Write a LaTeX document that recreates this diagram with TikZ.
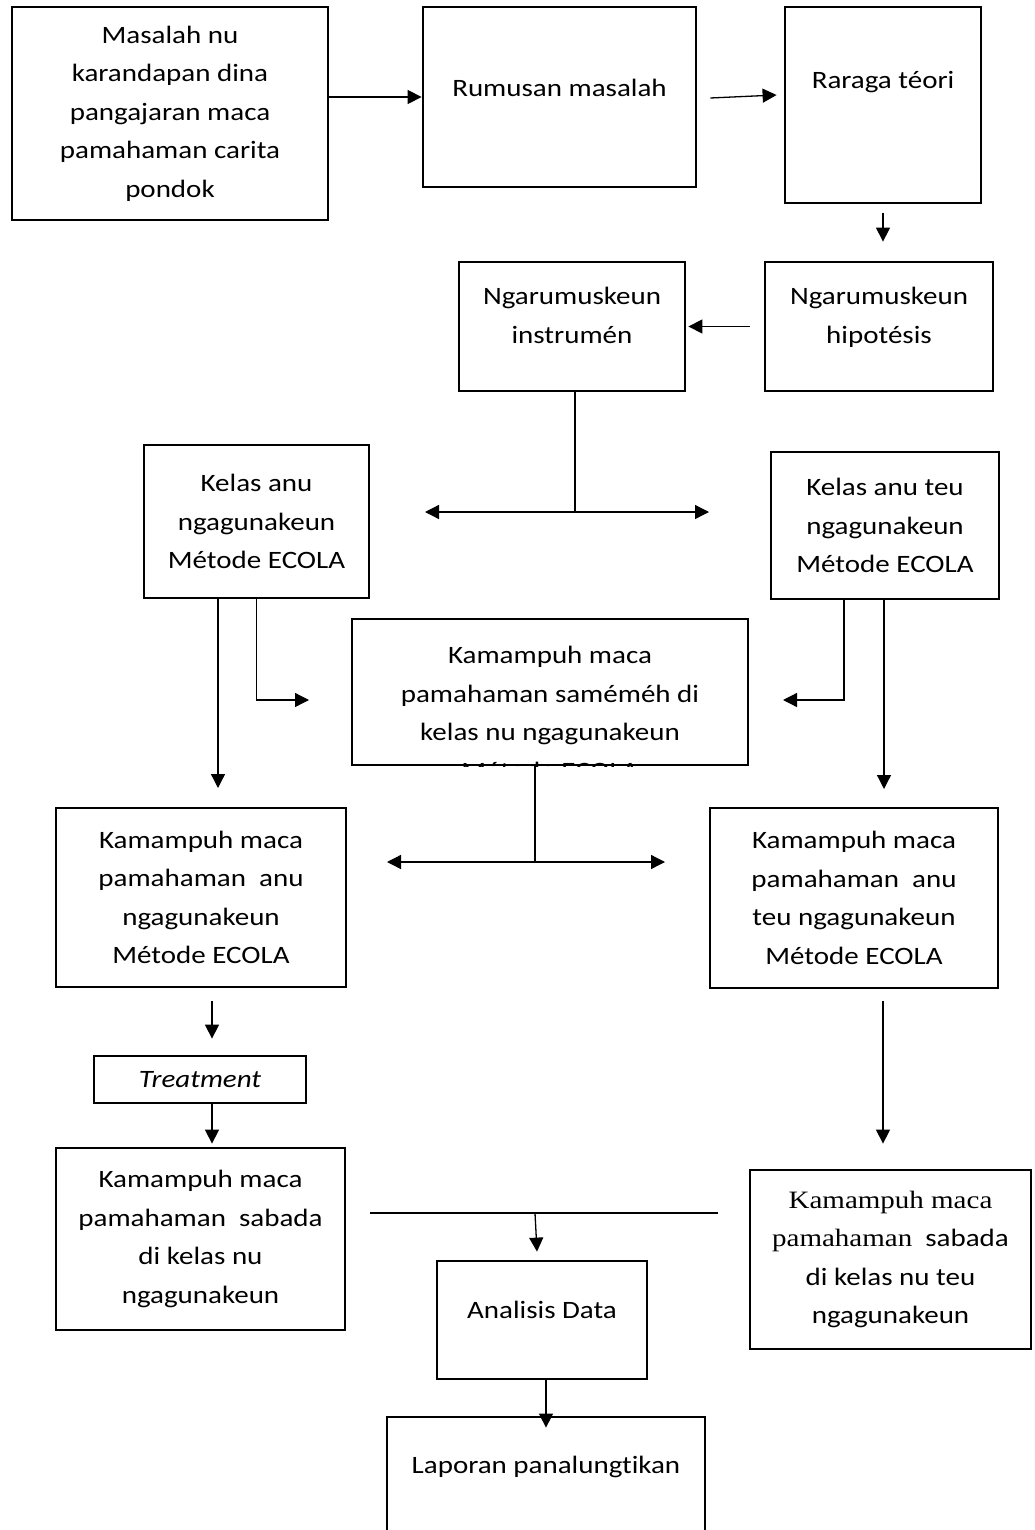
\documentclass[tikz,border=0pt]{standalone}
\usepackage{fontspec}
\setmainfont{Carlito}[FakeStretch=1.16, Ligatures=NoCommon]
\newfontfamily\timesish{Liberation Serif}[FakeStretch=1.16]
\usetikzlibrary{arrows.meta}

\begin{document}
\begin{tikzpicture}[x=1pt, y=-1pt,
  box/.style={draw, line width=2.8pt, align=center, inner sep=0pt,
    font=\fontsize{25}{38.5}\selectfont},
  arr/.style={line width=1.3pt, -{Triangle[length=14pt,width=14pt]}},
  link/.style={line width=1.3pt}]
  \useasboundingbox (0,0) rectangle (1035,1530);
  % Top row
  \node[box, minimum width=316pt, minimum height=213pt] (masalah) at (170,113.5)
    {Masalah nu\\karandapan dina\\pangajaran maca\\pamahaman carita\\pondok};
  \node[box, minimum width=273pt, minimum height=180pt, text depth=19pt] (rumusan) at (559.5,97)
    {Rumusan masalah};
  \node[box, minimum width=196pt, minimum height=196pt, text depth=51pt] (raraga) at (883,105)
    {Raraga téori};
  % Second row
  \node[box, minimum width=228pt, minimum height=129pt, text depth=22pt] (hipotesis) at (879,326.5)
    {Ngarumuskeun\\hipotésis};
  \node[box, minimum width=226pt, minimum height=129pt, text depth=22pt] (instrumen) at (572,326.5)
    {Ngarumuskeun\\instrumén};
  % Classes
  \node[box, minimum width=225pt, minimum height=153pt] (kelasa) at (256.5,521.5)
    {Kelas anu\\ngagunakeun\\Métode ECOLA};
  \node[box, minimum width=228pt, minimum height=147pt] (kelasb) at (885,525.5)
    {Kelas anu teu\\ngagunakeun\\Métode ECOLA};
  \node[box, minimum width=396pt, minimum height=146pt] (midbox) at (550,692) {};
  \begin{scope}
    \clip (midbox.south west) rectangle (midbox.north east);
    \node[box, draw=none] (midtxt) at (550,713)
      {Kamampuh maca\\pamahaman saméméh di\\kelas nu ngagunakeun\\Métode ECOLA};
  \end{scope}
  % Results
  \node[box, minimum width=290pt, minimum height=179pt] (kampuha) at (201,897.5)
    {Kamampuh maca\\pamahaman~ anu\\ngagunakeun\\Métode ECOLA};
  \node[box, minimum width=288pt, minimum height=180pt] (kampuhb) at (854,898)
    {Kamampuh maca\\pamahaman~ anu\\teu ngagunakeun\\Métode ECOLA};
  \node[box, minimum width=212pt, minimum height=47pt] (treatment) at (200,1079.5)
    {\itshape Treatment};
  \node[box, minimum width=289pt, minimum height=182pt] (sabadaa) at (200.5,1239)
    {Kamampuh maca\\pamahaman~ sabada\\di kelas nu\\ngagunakeun};
  \node[box, minimum width=281pt, minimum height=179pt] (sabadab) at (890.5,1259.5)
    {{\timesish Kamampuh maca}\\{\timesish pamahaman}~ sabada\\di kelas nu teu\\ngagunakeun};
  \node[box, minimum width=210pt, minimum height=118pt, text depth=21pt] (analisis) at (542,1320)
    {Analisis Data};
  \node[box, minimum width=318pt, minimum height=143pt, text depth=48pt] (laporan) at (546,1488.5)
    {Laporan panalungtikan};
  % Free ends
  \coordinate (split1) at (575,512);
  \coordinate (toA) at (425,512);
  \coordinate (toB) at (709,512);
  \coordinate (toMidA) at (309,700);
  \coordinate (toKampuhA) at (218,788);
  \coordinate (toMidB) at (783,700);
  \coordinate (toKampuhB) at (884,789);
  \coordinate (split2) at (535,862);
  \coordinate (toC) at (387,862);
  \coordinate (toD) at (665,862);
  \coordinate (joinL) at (370,1213);
  \coordinate (joinR) at (718,1213);
  \coordinate (join) at (535,1213);
  % Arrows
  \draw[arr] (masalah.east |- rumusan.west) -- (rumusan.west);
  \draw[arr] ([xshift=13pt,yshift=-1pt]rumusan.east) -- ([xshift=-7pt,yshift=2pt]raraga.west |- rumusan.east);
  \draw[arr] ([yshift=-9pt]raraga.south) -- ([yshift=19pt]raraga.south |- hipotesis.north);
  \draw[arr] ([xshift=-14pt]hipotesis.west) -- ([xshift=2pt]instrumen.east);
  \draw[link] ([xshift=3pt]instrumen.south) -- (split1);
  \draw[arr] (split1) -- (toA);
  \draw[arr] (split1) -- (toB);
  \draw[arr] (kelasa.south) |- (toMidA);
  \draw[arr] (kelasa.south -| toKampuhA) -- (toKampuhA);
  \draw[arr] ([xshift=-41pt]kelasb.south) |- (toMidB);
  \draw[arr] (kelasb.south -| toKampuhB) -- (toKampuhB);
  \draw[link] (midbox.south -| split2) -- (split2);
  \draw[arr] (split2) -- (toC);
  \draw[arr] (split2) -- (toD);
  \draw[arr] ([xshift=11pt,yshift=-13pt]kampuha.south) -- ([xshift=12pt,yshift=16pt]treatment.north);
  \draw[arr] ([xshift=12pt]treatment.south) -- ([xshift=11.5pt,yshift=3pt]sabadaa.north);
  \draw[arr] ([xshift=29pt,yshift=-12pt]kampuhb.south) -- ([xshift=-7.5pt,yshift=25pt]sabadab.north);
  \draw[link] (joinL) -- (joinR);
  \draw[arr] (join) -- ([xshift=-5pt,yshift=8pt]analisis.north);
  \draw[arr] ([xshift=4pt]analisis.south) -- ([yshift=-12pt]laporan.north);
\end{tikzpicture}
\end{document}
